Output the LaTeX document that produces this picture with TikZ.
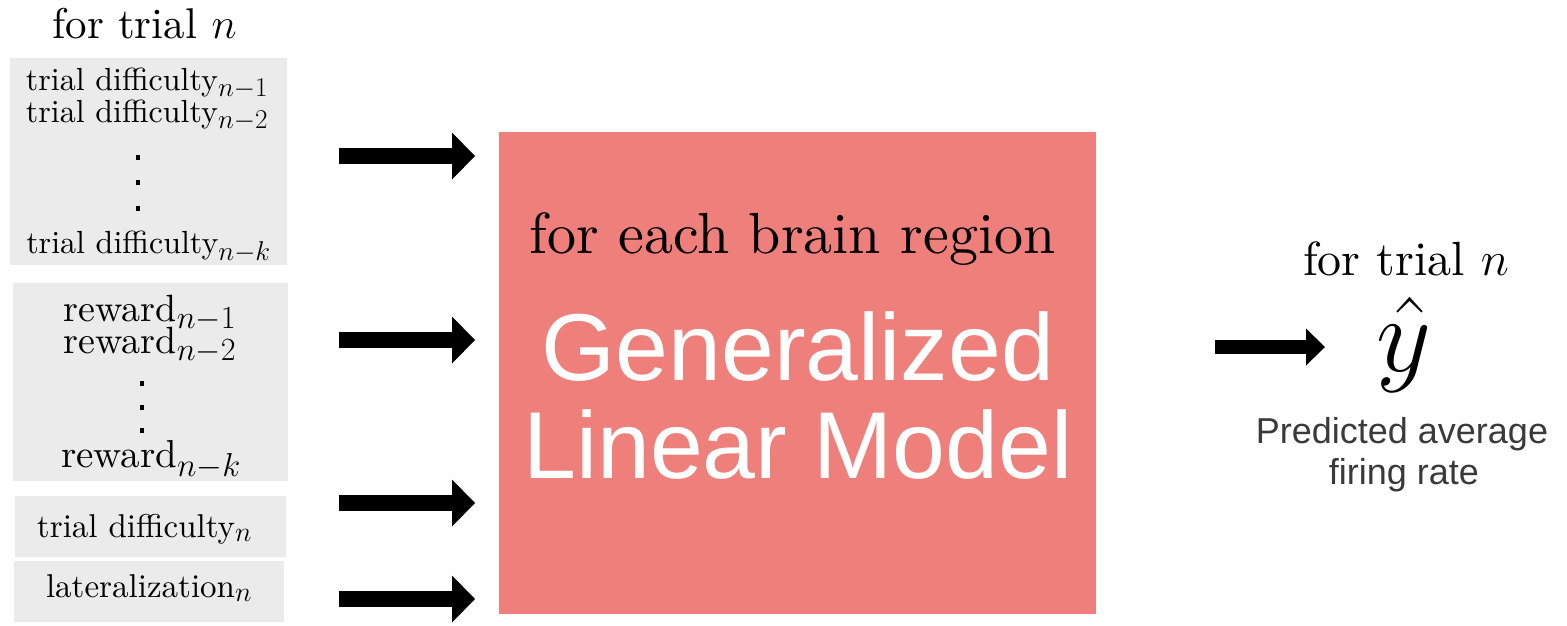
\RequirePackage{fix-cm}
\documentclass[tikz,border=0pt]{standalone}
\usepackage{fontspec}
\setmainfont{lmroman10-regular.otf}
\newfontfamily\arial{Liberation Sans}
\usetikzlibrary{arrows.meta}

% larger subscripts for the indexed inputs
\renewcommand{\defaultscriptratio}{.85}

\definecolor{inputgray}{RGB}{235,235,235}
\definecolor{glmred}{RGB}{239,127,123}
\definecolor{captiongray}{RGB}{58,58,58}

\newcommand{\fs}[1]{\fontsize{#1}{#1}\selectfont}

\begin{document}
\begin{tikzpicture}[x=1pt,y=-1pt,
  inbox/.style={fill=inputgray, draw=none, inner sep=0pt, anchor=north west},
  lbl/.style={anchor=base, inner sep=0pt},
  dotmark/.style={fill=black, inner sep=0pt, minimum width=4.5pt, minimum height=5pt},
  blockarrow/.style={line width=16pt, -{Triangle[length=23pt, width=47pt, line width=0pt]}},
  smallarrow/.style={line width=13.5pt, -{Triangle[length=19pt, width=37pt, line width=0pt]}}
]
\useasboundingbox (0,0) rectangle (1567,625);

% input groups
\node[inbox, minimum width=277pt, minimum height=207pt] (hist) at (10,58) {};
\node[inbox, minimum width=275pt, minimum height=198pt] (rew) at (13,283) {};
\node[inbox, minimum width=271pt, minimum height=61pt] (diff) at (15,496) {};
\node[inbox, minimum width=270pt, minimum height=61pt] (lat) at (14,561) {};

\node[lbl] (intitle) at (144.5,38) {\fs{43}for trial $n$};

\node[lbl] (h1) at (147,90) {\fs{32}trial difficulty$_{n-1}$};
\node[lbl] (h2) at (147,122) {\fs{32}trial difficulty$_{n-2}$};
\node[dotmark] (hd1) at (138,157) {};
\node[dotmark] (hd2) at (138,182) {};
\node[dotmark] (hd3) at (138,208) {};
\node[lbl] (hk) at (148.5,253) {\fs{32}trial difficulty$_{n-k}$};

\node[lbl] (r1) at (150,321) {\fs{38}reward$_{n-1}$};
\node[lbl] (r2) at (150,353) {\fs{38}reward$_{n-2}$};
\node[dotmark] (rd1) at (142,383) {};
\node[dotmark] (rd2) at (142,407) {};
\node[dotmark] (rd3) at (142,430) {};
\node[lbl] (rk) at (151,467) {\fs{39}reward$_{n-k}$};

\node[lbl] (dn) at (144.5,537) {\fs{33}trial difficulty$_n$};
\node[lbl] (ln) at (149,597) {\fs{33}lateralization$_n$};

% model block
\node[fill=glmred, draw=none, inner sep=0pt, anchor=north west,
      minimum width=597pt, minimum height=482pt] (glm) at (499,132) {};
\node[lbl] (region) at (792.5,253) {\fs{58}for each brain region};
\node[lbl, text=white] (glm1) at (798,380) {\arial\fs{95}Generalized};
\node[lbl, text=white] (glm2) at (798,478) {\arial\fs{95}Linear Model};

% input arrows
\coordinate (s1) at (339,156); \coordinate (e1) at (475,156);
\coordinate (s2) at (339,340); \coordinate (e2) at (475,340);
\coordinate (s3) at (339,503); \coordinate (e3) at (475,503);
\coordinate (s4) at (339,599); \coordinate (e4) at (475,599);
\draw[blockarrow] (s1) -- (e1);
\draw[blockarrow] (s2) -- (e2);
\draw[blockarrow] (s3) -- (e3);
\draw[blockarrow] (s4) -- (e4);

% output
\node[lbl] (outtitle) at (1406,275) {\fs{48}for trial $n$};
\node[lbl] (yhat) at (1404,371) {\fs{107}$\hat{y}$};
\coordinate (so) at (1215,347); \coordinate (eo) at (1325,347);
\draw[smallarrow] (so) -- (eo);
\node[lbl, text=captiongray] (cap1) at (1402,443) {\arial\fs{36}Predicted average};
\node[lbl, text=captiongray] (cap2) at (1404,484) {\arial\fs{36}firing rate};
\end{tikzpicture}
\end{document}
